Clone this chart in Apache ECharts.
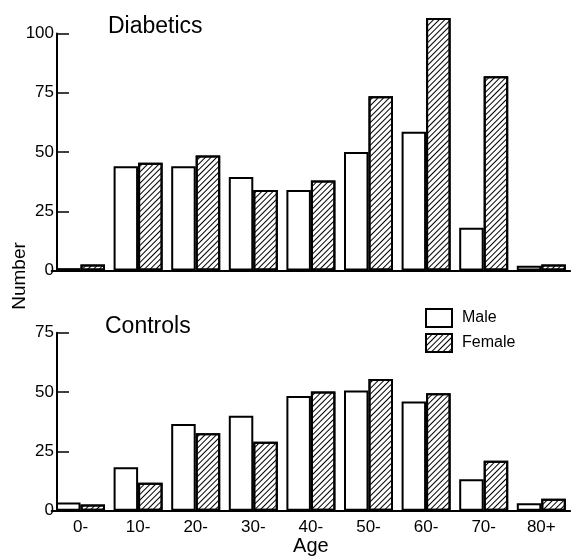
<!DOCTYPE html>
<html><head><meta charset="utf-8">
<script src="https://cdn.jsdelivr.net/npm/echarts@6/dist/echarts.min.js"></script>
<style>html,body{margin:0;padding:0;background:#fff}#c{width:572px;height:559px}</style>
</head><body><div id="c"></div>
<script>
const categories = ['0-','10-','20-','30-','40-','50-','60-','70-','80+'];
const diabeticsMale   = [1, 44, 44, 39.5, 34, 50, 58.5, 18, 2];
const diabeticsFemale = [2.5, 45.5, 48.5, 34, 38, 73.5, 106.5, 82, 2.5];
const controlsMale    = [3.5, 18.3, 36.5, 40, 48.3, 50.6, 46, 13.2, 3.1];
const controlsFemale  = [2.6, 11.8, 32.6, 29, 50.2, 55.5, 49.5, 21, 5];
const diabeticsTicks = {min: 0, max: 100, interval: 25};
const controlsTicks  = {min: 0, max: 75, interval: 25};

const sans = "'Liberation Sans', sans-serif";
const hatch = {
  symbol: 'rect', symbolSize: 1, dashArrayX: [1, 0], dashArrayY: [1, 2.2],
  rotation: -Math.PI / 4, color: '#000'
};
const maleStyle = {color: '#fff', borderColor: '#000', borderWidth: 2};
const femaleStyle = {color: '#fff', borderColor: '#000', borderWidth: 2, decal: hatch};

const gridLeft = 51.7, gridWidth = 518.4;
function yAxisCfg(idx, t) {
  return {
    type: 'value', gridIndex: idx, min: t.min, max: t.max, interval: t.interval,
    offset: -5.3,
    axisLine: {show: true, lineStyle: {color: '#000', width: 2}},
    axisTick: {show: true, inside: true, length: 12, lineStyle: {color: '#000', width: 1.5}},
    axisLabel: {color: '#000', fontFamily: sans, fontSize: 17, margin: 3},
    splitLine: {show: false}
  };
}
function barSeries(name, xi, data, style) {
  return {name, type: 'bar', xAxisIndex: xi, yAxisIndex: xi, data, barWidth: 24.5,
    barGap: '0%', clip: false, itemStyle: style, emphasis: {disabled: true}, animation: false};
}
const chart = echarts.init(document.getElementById('c'));
chart.setOption({
  animation: false,
  backgroundColor: '#fff',
  grid: [
    {left: gridLeft, width: gridWidth, top: 33.5, height: 237},
    {left: gridLeft, width: gridWidth, top: 332.7, height: 178}
  ],
  title: [
    {text: 'Diabetics', left: 108, top: 15, padding: 0,
     textStyle: {fontFamily: sans, fontSize: 23, fontWeight: 'normal', color: '#000'}},
    {text: 'Controls', left: 105, top: 315, padding: 0,
     textStyle: {fontFamily: sans, fontSize: 23, fontWeight: 'normal', color: '#000'}}
  ],
  legend: {
    orient: 'vertical', left: 425, top: 308, padding: 0,
    itemWidth: 26, itemHeight: 18, itemGap: 5, icon: 'rect',
    data: ['Male', 'Female'],
    textStyle: {fontFamily: sans, fontSize: 16, color: '#000', padding: [0, 0, 0, 5]}
  },
  xAxis: [
    {type: 'category', gridIndex: 0, data: categories,
     axisLine: {show: true, lineStyle: {color: '#000', width: 2}},
     axisTick: {show: false}, axisLabel: {show: false}},
    {type: 'category', gridIndex: 1, data: categories,
     axisLine: {show: true, lineStyle: {color: '#000', width: 2}},
     axisTick: {show: false},
     axisLabel: {color: '#000', fontFamily: sans, fontSize: 17, margin: 8},
     name: 'Age', nameLocation: 'middle', nameGap: 22,
     nameTextStyle: {color: '#000', fontFamily: sans, fontSize: 20}}
  ],
  yAxis: [yAxisCfg(0, diabeticsTicks), yAxisCfg(1, controlsTicks)],
  graphic: [{
    type: 'text', x: 20, y: 276, rotation: Math.PI / 2,
    style: {text: 'Number', fill: '#000', font: "19px 'Liberation Sans', sans-serif",
            align: 'center', verticalAlign: 'middle'}
  }],
  series: [
    barSeries('Male', 0, diabeticsMale, maleStyle),
    barSeries('Female', 0, diabeticsFemale, femaleStyle),
    barSeries('Male', 1, controlsMale, maleStyle),
    barSeries('Female', 1, controlsFemale, femaleStyle)
  ]
});
</script></body></html>
